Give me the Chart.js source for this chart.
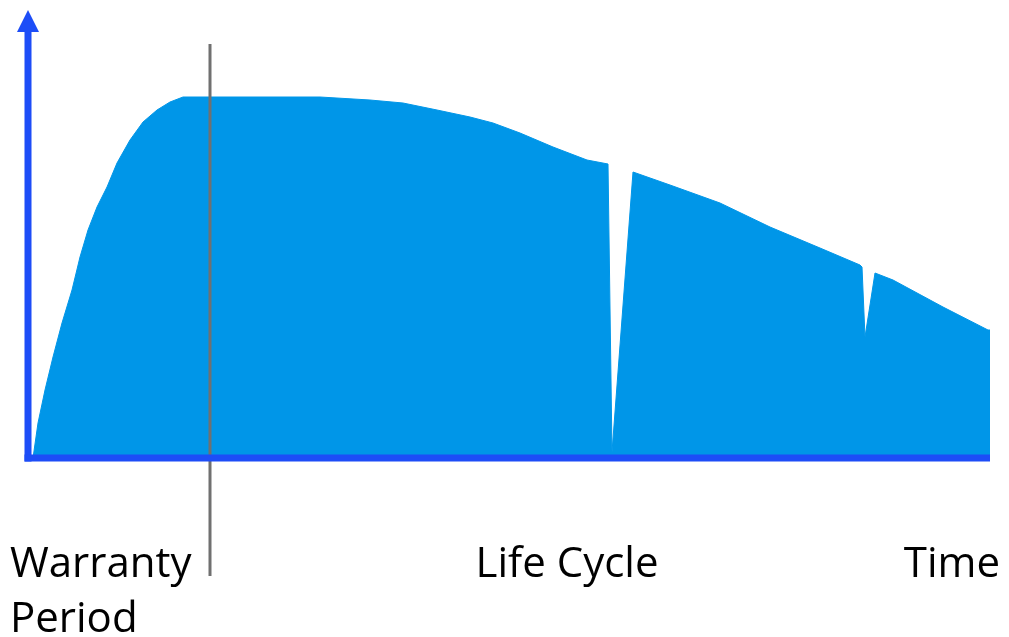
<!DOCTYPE html>
<html>
<head>
<meta charset="utf-8">
<script src="https://cdn.jsdelivr.net/npm/chart.js@4/dist/chart.umd.min.js"></script>
<style>
html,body{margin:0;padding:0;background:#fff;}
#wrap{width:1009px;height:637px;position:relative;}
</style>
</head>
<body>
<div id="wrap"><canvas id="c" width="1009" height="637"></canvas></div>
<script>
// Time (x) and performance (y) values of the life-cycle curve
const timeValues = [0, 5, 10, 17, 25, 34, 44, 52, 60, 69, 79, 89, 102, 115, 129, 142, 155, 169, 292, 342, 375, 409, 442, 465, 492, 525, 559, 580, 584, 605, 642, 692, 742, 792, 832, 834, 837, 847, 865, 915, 960, 962];
const perfValues = [0, 0, 35, 68, 101, 135, 168, 201, 228, 251, 271, 295, 318, 336, 348, 356, 361, 361, 361, 358, 355, 348, 341, 335, 325, 311, 298, 294, 6, 286, 273, 255, 231, 210, 193, 191, 121, 185, 178, 151, 128, 128];
const warrantyEnd = 182;
const axisLabels = ["Warranty\nPeriod", "Life Cycle", "Time"];
const labelPositions = [-18, 539, 972];
const labelAlign = ["left", "center", "right"];

const points = timeValues.map((t, i) => ({x: t, y: perfValues[i]}));

const decor = {
  id: 'decor',
  afterDatasetsDraw(chart) {
    const ctx = chart.ctx;
    const xs = chart.scales.x, ys = chart.scales.y;
    const x0 = xs.getPixelForValue(0), y0 = ys.getPixelForValue(0);
    const xEnd = xs.getPixelForValue(xs.max);
    const yTop = ys.getPixelForValue(ys.max);
    ctx.save();
    // warranty line
    const wx = xs.getPixelForValue(warrantyEnd);
    ctx.strokeStyle = '#707070';
    ctx.lineWidth = 3;
    ctx.beginPath();
    ctx.moveTo(wx, 44);
    ctx.lineTo(wx, 576);
    ctx.stroke();
    // axes
    const blue = '#1d4df7';
    ctx.strokeStyle = blue;
    ctx.lineWidth = 7;
    ctx.lineCap = 'butt';
    ctx.beginPath();
    ctx.moveTo(x0, y0 + 3.5);
    ctx.lineTo(x0, yTop + 18);
    ctx.stroke();
    ctx.beginPath();
    ctx.moveTo(x0 - 3.5, y0);
    ctx.lineTo(xEnd, y0);
    ctx.stroke();
    ctx.fillStyle = blue;
    ctx.beginPath();
    ctx.moveTo(x0, yTop - 2);
    ctx.lineTo(x0 - 11, yTop + 20);
    ctx.lineTo(x0 + 11, yTop + 20);
    ctx.closePath();
    ctx.fill();
    // labels
    ctx.fillStyle = '#000';
    ctx.font = '42px "Open Sans"';
    ctx.textBaseline = 'alphabetic';
    axisLabels.forEach((lab, i) => {
      const px = xs.getPixelForValue(labelPositions[i]);
      ctx.textAlign = labelAlign[i];
      lab.split('\n').forEach((line, j) => {
        ctx.fillText(line, px, 577 + j * 55);
      });
    });
    ctx.restore();
  }
};

new Chart(document.getElementById('c'), {
  type: 'line',
  data: {
    datasets: [{
      data: points,
      fill: 'origin',
      backgroundColor: '#0096e8',
      borderColor: '#0096e8',
      borderWidth: 1,
      pointRadius: 0,
      tension: 0
    }]
  },
  options: {
    responsive: false,
    animation: false,
    layout: {padding: {left: 28, right: 19, top: 12, bottom: 179}},
    plugins: {legend: {display: false}, tooltip: {enabled: false}},
    scales: {
      x: {type: 'linear', min: 0, max: 962, display: false},
      y: {min: 0, max: 446, display: false}
    }
  },
  plugins: [decor]
});
</script>
</body>
</html>
